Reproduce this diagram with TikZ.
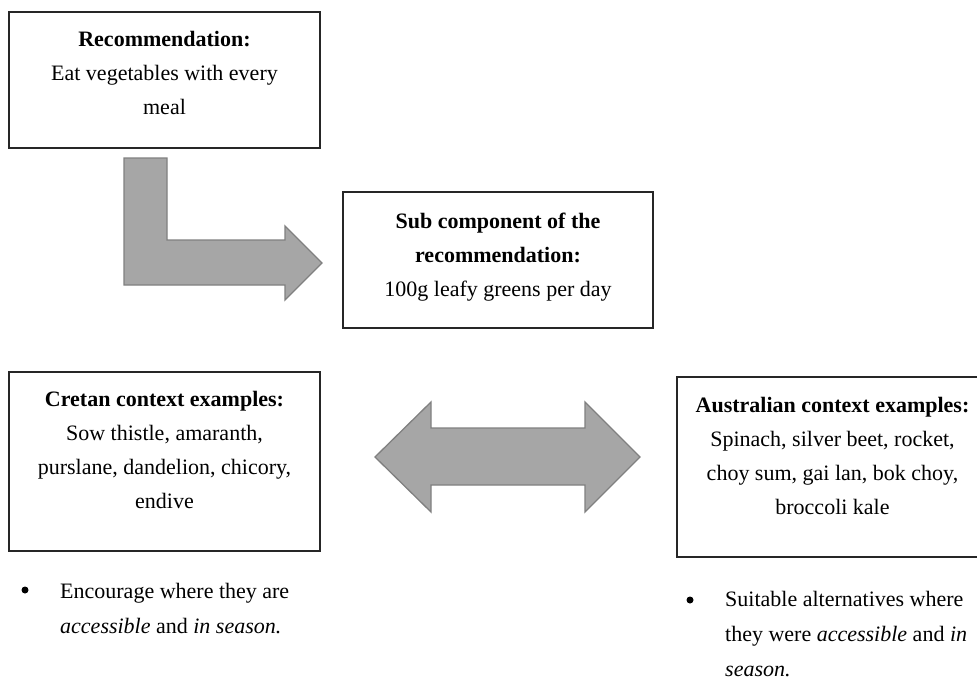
\documentclass[tikz,border=0pt]{standalone}
\usepackage{fontspec}
\setmainfont{Liberation Serif}
\usepackage{tikz}
\usetikzlibrary{positioning}

\begin{document}
\begin{tikzpicture}[x=1pt, y=-1pt]
	\tikzstyle{box} = [draw=black!85, line width=1.3pt, rectangle, inner sep=0pt];
	\tikzstyle{label} = [align=center, anchor=north, inner sep=0pt, font={\fontsize{22}{34}\selectfont}];
	\tikzstyle{note} = [align=left, anchor=north west, inner sep=0pt, font={\fontsize{22}{35}\selectfont}];
	\tikzstyle{dot} = [circle, fill=black, inner sep=0pt, minimum size=7pt];
	\tikzstyle{bigarrow} = [fill=black!35, draw=black!50, line width=1.3pt, line join=miter];

	\useasboundingbox (0,0) rectangle (977,682);

	% boxes
	\node[box, minimum width=311pt, minimum height=136pt] (rec) at (164.5,80) {};
	\node[box, minimum width=310pt, minimum height=136pt] (sub) at (498,260) {};
	\node[box, minimum width=311pt, minimum height=179pt] (crete) at (164.5,461.5) {};
	\node[box, minimum width=311pt, minimum height=180pt] (aus) at (832.5,467) {};

	\node[label, below=20pt of rec.north] (rectext)
		{\textbf{Recommendation:}\\Eat vegetables with every\\meal};
	\node[label, below=21pt of sub.north] (subtext)
		{\textbf{Sub component of the}\\\textbf{recommendation:}\\100g leafy greens per day};
	\node[label, below=20pt of crete.north] (cretetext)
		{\textbf{Cretan context examples:}\\Sow thistle, amaranth,\\purslane, dandelion, chicory,\\endive};
	\node[label, below=21pt of aus.north] (austext)
		{\textbf{Australian context examples:}\\Spinach, silver beet, rocket,\\choy sum, gai lan, bok choy,\\broccoli kale};

	% block arrows
	\draw[bigarrow] (124,158) -- (167,158) -- (167,240) -- (285,240) -- (285,226)
		-- (322,263) -- (285,300) -- (285,285) -- (124,285) -- cycle;
	\draw[bigarrow] (375,457) -- (431,402) -- (431,428) -- (585,428) -- (585,402)
		-- (640,457) -- (585,512) -- (585,485) -- (431,485) -- (431,512) -- cycle;

	% bullet notes
	\node[dot] (dleft) at (25,590) {};
	\node[note] (noteleft) at (60,583)
		{Encourage where they are\\\textit{accessible} and \textit{in season.}};
	\node[dot] (dright) at (690,600) {};
	\node[note] (noteright) at (725,591)
		{Suitable alternatives where\\they were \textit{accessible} and \textit{in}\\\textit{season.}};
\end{tikzpicture}
\end{document}
